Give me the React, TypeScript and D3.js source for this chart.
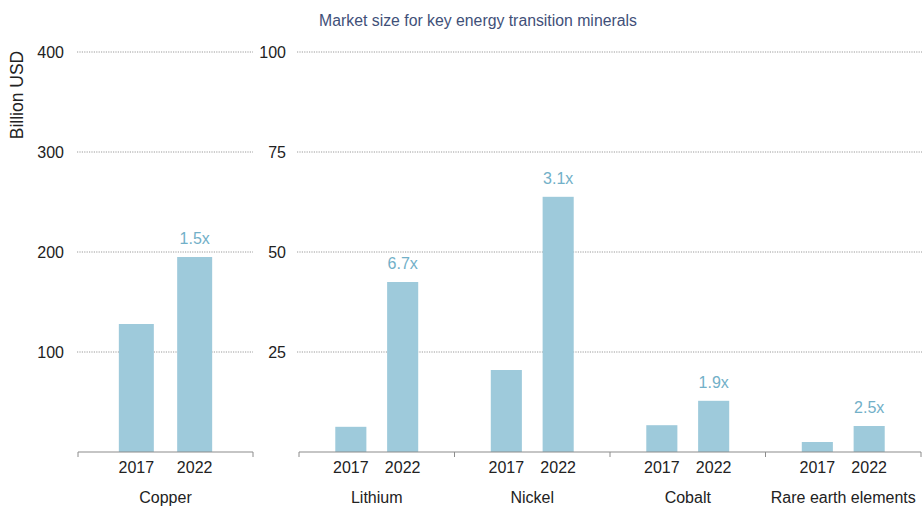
import React from "react";
import * as d3 from "d3";

const minerals = ["Copper", "Lithium", "Nickel", "Cobalt", "Rare earth elements"];
const years = ["2017", "2022"];
const values2017 = [128, 6.3, 20.5, 6.7, 2.5];
const values2022 = [195, 42.5, 63.8, 12.8, 6.5];
const multipliers = ["1.5x", "6.7x", "3.1x", "1.9x", "2.5x"];
const leftTicks = [100, 200, 300, 400];
const rightTicks = [25, 50, 75, 100];

const W = 922;
const H = 508;
const FONT = "Liberation Sans, Arial, sans-serif";
const BAR = "#9ecadb";
const LABEL = "#72b0c8";
const GRID = "#9a9a9a";
const AXIS = "#8c8c8c";

export default function App() {
  const top = 52;
  const base = 452;
  const yLeft = d3.scaleLinear().domain([0, 400]).range([base, top]);
  const yRight = d3.scaleLinear().domain([0, 100]).range([base, top]);

  const leftX = d3.scaleBand<string>().domain(["Copper"]).range([78, 253]);
  const rightX = d3.scaleBand<string>().domain(minerals.slice(1)).range([299, 921]);

  const groups = minerals.map((m, i) => {
    const isLeft = i === 0;
    const gx = isLeft ? leftX : rightX;
    const y = isLeft ? yLeft : yRight;
    const x0 = gx(m)!;
    const w = gx.bandwidth();
    const inner = d3.scaleBand<string>().domain(years).range([x0, x0 + w]).paddingInner(0.4).paddingOuter(0.7);
    return { m, i, x0, w, y, inner, vals: [values2017[i], values2022[i]] };
  });

  return (
    <svg width={W} height={H} style={{ position: "absolute", left: 0, top: 0, background: "#fff" }} fontFamily={FONT}>
      <text x={478} y={26} textAnchor="middle" fontSize={15.8} fill="#3f5079">
        Market size for key energy transition minerals
      </text>
      <text transform={`translate(23,95) rotate(-90)`} textAnchor="middle" fontSize={17.5} fill="#222">
        Billion USD
      </text>
      {/* gridlines */}
      {leftTicks.map((t) => (
        <g key={"l" + t}>
          <line x1={77} x2={253} y1={yLeft(t)} y2={yLeft(t)} stroke={GRID} strokeWidth={1} strokeDasharray="1.2,1.2" />
          <text x={64} y={yLeft(t)} dy="0.35em" textAnchor="end" fontSize={16} fill="#222">{t}</text>
        </g>
      ))}
      {rightTicks.map((t) => (
        <g key={"r" + t}>
          <line x1={297} x2={922} y1={yRight(t)} y2={yRight(t)} stroke={GRID} strokeWidth={1} strokeDasharray="1.2,1.2" />
          <text x={286} y={yRight(t)} dy="0.35em" textAnchor="end" fontSize={16} fill="#222">{t}</text>
        </g>
      ))}
      {/* bars */}
      {groups.map((g) => (
        <g key={g.m}>
          {years.map((yr, j) => (
            <rect key={yr} x={g.inner(yr)} y={g.y(g.vals[j])} width={g.inner.bandwidth()} height={base - g.y(g.vals[j])} fill={BAR} />
          ))}
          <text x={g.inner("2022")! + g.inner.bandwidth() / 2} y={g.y(g.vals[1]) - 13} textAnchor="middle" fontSize={16} fill={LABEL}>
            {multipliers[g.i]}
          </text>
          {years.map((yr) => (
            <text key={"t" + yr} x={g.inner(yr)! + g.inner.bandwidth() / 2} y={473} textAnchor="middle" fontSize={16} fill="#222">
              {yr}
            </text>
          ))}
          <text x={g.x0 + g.w / 2} y={503} textAnchor="middle" fontSize={16} fill="#222">{g.m}</text>
        </g>
      ))}
      {/* axes baselines */}
      <line x1={78} x2={253} y1={base} y2={base} stroke={AXIS} strokeWidth={1.2} />
      {[78, 253].map((x) => (
        <line key={x} x1={x} x2={x} y1={base} y2={base + 5} stroke={AXIS} strokeWidth={1} />
      ))}
      <line x1={299} x2={921} y1={base} y2={base} stroke={AXIS} strokeWidth={1.2} />
      {[...minerals.slice(1).map((m) => rightX(m)!), 921].map((x) => (
        <line key={"rt" + x} x1={x} x2={x} y1={base} y2={base + 5} stroke={AXIS} strokeWidth={1} />
      ))}
    </svg>
  );
}
